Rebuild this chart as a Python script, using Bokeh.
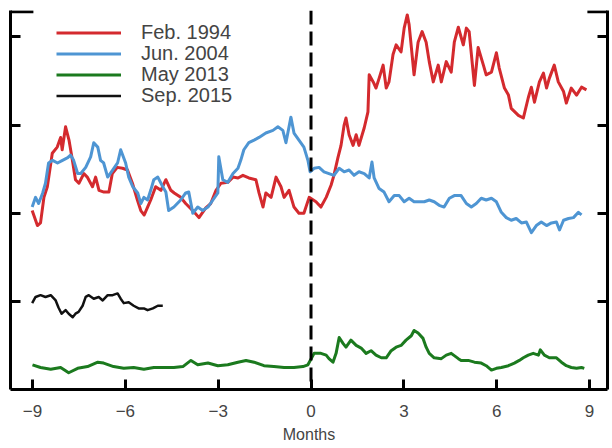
from bokeh.plotting import figure
from bokeh.models import (Range1d, LinearAxis, FixedTicker, Span, Legend, LegendItem,
                          CustomLabelingPolicy)
from bokeh.embed import file_html
from bokeh.resources import INLINE

# ---- data (months relative to event, level in arbitrary units) ----
feb1994_x = [-9.01,-8.84,-8.74,-8.63,-8.52,-8.36,-8.20,-8.09,-8.04,-7.93,-7.82,-7.71,-7.61,-7.50,-7.34,-7.23,-7.06,-6.96,-6.85,-6.69,-6.53,-6.42,-6.26,-6.09,-5.93,-5.77,-5.61,-5.50,-5.39,-5.28,-5.18,-5.02,-4.85,-4.69,-4.53,-4.42,
             -4.21,-4.05,-3.82,-3.62,-3.40,-3.24,-3.07,-2.91,-2.69,-2.52,-2.36,-2.20,-2.01,-1.78,-1.68,-1.55,-1.46,-1.29,-1.13,-0.97,-0.87,-0.71,-0.55,-0.39,-0.23,-0.06,
             0.16,0.32,0.49,0.65,0.74,0.87,0.97,1.07,1.13,1.23,1.36,1.46,1.55,1.72,1.84,1.88,2.01,2.10,2.20,2.33,2.43,2.52,2.65,2.75,2.91,3.01,3.11,3.17,3.33,3.46,3.59,3.72,3.82,3.95,4.11,4.21,4.37,4.53,
             4.63,4.76,4.92,5.02,5.11,5.28,5.40,5.57,5.66,5.83,5.99,6.08,6.25,6.38,6.47,6.70,6.86,7.02,7.12,7.22,7.38,7.51,7.61,7.70,7.86,7.99,8.16,8.25,8.41,8.58,8.74,8.90]
feb1994_y = [2.03,1.86,1.89,2.18,2.30,2.68,2.75,2.86,2.72,2.98,2.83,2.60,2.38,2.34,2.45,2.41,2.30,2.41,2.26,2.24,2.24,2.45,2.52,2.51,2.49,2.34,2.15,2.03,1.98,2.07,2.15,2.30,2.26,2.38,2.26,2.23,
             2.18,2.11,2.03,1.95,2.06,2.11,2.26,2.34,2.35,2.41,2.40,2.43,2.40,2.38,2.23,2.07,2.23,2.18,2.41,2.30,2.18,2.26,2.07,2.00,2.00,2.18,
             2.13,2.07,2.18,2.32,2.43,2.63,2.77,3.00,3.08,2.89,2.77,2.89,2.77,2.97,3.15,3.57,3.49,3.42,3.53,3.68,3.42,3.49,3.80,3.91,3.83,4.10,4.25,4.14,3.57,3.94,4.06,3.94,3.72,3.49,3.68,3.49,3.72,3.60,
             3.94,4.11,3.91,4.10,4.06,3.45,3.88,3.68,3.57,3.60,3.82,3.65,3.42,3.34,3.19,3.11,3.08,3.31,3.43,3.26,3.49,3.59,3.42,3.53,3.68,3.49,3.38,3.25,3.42,3.34,3.43,3.40]

jun2004_x = [-9.01,-8.90,-8.80,-8.67,-8.58,-8.48,-8.35,-8.19,-8.03,-7.86,-7.77,-7.67,-7.54,-7.44,-7.28,-7.12,-7.02,-6.89,-6.80,-6.70,-6.57,-6.41,-6.25,-6.15,-5.99,-5.89,-5.76,-5.60,-5.50,-5.40,-5.28,-5.18,-5.08,-4.95,-4.79,-4.69,-4.60,-4.43,
             -4.21,-4.05,-3.95,-3.82,-3.66,-3.50,-3.33,-3.17,-3.01,-2.98,-2.85,-2.69,-2.52,-2.36,-2.27,-2.17,-2.01,-1.84,-1.68,-1.46,-1.23,-1.07,-0.91,-0.81,-0.65,-0.55,-0.39,-0.23,-0.10,-0.03,
             0.10,0.26,0.42,0.58,0.74,0.91,1.07,1.23,1.39,1.55,1.72,1.88,1.97,2.04,2.20,2.36,2.52,2.69,2.85,3.01,3.17,3.33,3.50,3.66,3.82,3.98,4.14,4.30,4.47,4.63,
             4.85,5.02,5.18,5.34,5.50,5.66,5.83,5.99,6.15,6.31,6.47,6.63,6.80,6.96,7.12,7.28,7.44,7.61,7.77,7.93,8.03,8.16,8.32,8.48,8.64,8.74]
jun2004_y = [2.07,2.18,2.11,2.23,2.34,2.57,2.60,2.57,2.60,2.63,2.66,2.60,2.45,2.45,2.52,2.64,2.80,2.75,2.60,2.57,2.41,2.49,2.57,2.72,2.57,2.41,2.30,2.23,2.11,2.18,2.15,2.26,2.38,2.41,2.30,2.24,2.03,2.07,
             2.15,2.23,2.24,2.00,2.07,2.03,2.07,2.15,2.23,2.64,2.38,2.35,2.45,2.51,2.60,2.72,2.80,2.83,2.86,2.91,2.94,2.98,2.94,2.80,3.09,2.91,2.83,2.75,2.60,2.47,
             2.51,2.52,2.47,2.45,2.43,2.51,2.47,2.49,2.43,2.47,2.45,2.40,2.58,2.40,2.28,2.24,2.13,2.20,2.20,2.13,2.17,2.13,2.13,2.13,2.15,2.13,2.09,2.07,2.17,2.20,
             2.20,2.11,2.07,2.11,2.17,2.15,2.17,2.13,2.01,1.95,1.92,1.94,1.89,1.90,1.78,1.86,1.90,1.86,1.89,1.90,1.81,1.92,1.94,1.95,2.01,1.98]

may2013_x = [-9.00,-8.74,-8.41,-8.09,-7.83,-7.54,-7.22,-6.89,-6.70,-6.38,-6.05,-5.73,-5.40,-5.08,-4.76,-4.43,-4.14,-3.88,-3.66,-3.33,-3.01,-2.69,-2.36,-2.10,-1.84,-1.52,-1.20,-0.87,-0.55,-0.26,-0.10,
             0.10,0.32,0.49,0.58,0.71,0.81,0.91,1.04,1.13,1.29,1.46,1.62,1.78,1.94,2.10,2.27,2.43,2.59,2.75,2.91,3.07,3.24,3.33,3.46,3.62,3.72,3.82,3.98,4.21,4.37,4.53,4.76,
             4.85,5.08,5.28,5.50,5.66,5.83,5.99,6.15,6.38,6.57,6.73,6.86,7.02,7.18,7.35,7.41,7.54,7.70,7.93,8.09,8.25,8.41,8.58,8.74,8.83]
may2013_y = [0.28,0.25,0.23,0.25,0.19,0.24,0.26,0.31,0.30,0.26,0.24,0.25,0.23,0.25,0.25,0.25,0.26,0.33,0.28,0.30,0.27,0.28,0.31,0.33,0.31,0.27,0.26,0.25,0.25,0.26,0.28,
             0.41,0.41,0.39,0.35,0.31,0.41,0.59,0.52,0.48,0.56,0.50,0.47,0.41,0.44,0.39,0.36,0.36,0.44,0.48,0.50,0.56,0.61,0.67,0.64,0.58,0.48,0.41,0.36,0.35,0.39,0.41,0.35,
             0.33,0.33,0.31,0.30,0.27,0.22,0.24,0.25,0.27,0.30,0.33,0.36,0.39,0.41,0.39,0.45,0.39,0.36,0.36,0.31,0.27,0.25,0.24,0.25,0.24]

sep2015_x = [-9.01,-8.90,-8.74,-8.58,-8.41,-8.25,-8.16,-8.06,-7.93,-7.83,-7.70,-7.61,-7.51,-7.38,-7.28,-7.18,-7.02,-6.86,-6.73,-6.57,-6.41,-6.25,-6.15,-6.05,-5.89,-5.73,-5.57,-5.40,-5.28,-5.11,-4.95,-4.79]
sep2015_y = [0.98,1.05,1.07,1.05,1.07,1.01,0.93,0.86,0.90,0.86,0.82,0.86,0.88,0.95,1.05,1.07,1.03,1.05,1.01,1.07,1.07,1.09,1.03,0.98,0.99,0.95,0.92,0.92,0.90,0.92,0.95,0.95]

series_names = ["Feb. 1994", "Jun. 2004", "May 2013", "Sep. 2015"]
series_colors = ["#d42a2e", "#4e95d3", "#1b7a1e", "#111111"]
x_ticks = [-9, -6, -3, 0, 3, 6, 9]
y_ticks = [1, 2, 3, 4]

FONT = "Liberation Sans"

p = figure(frame_width=597, frame_height=379, output_backend="svg", toolbar_location=None,
           x_range=Range1d(-9.71, 9.58), y_range=Range1d(0, 4.3),
           min_border_left=10, min_border_right=5, min_border_top=10, min_border_bottom=0)
p.outline_line_color = None
p.grid.visible = False
p.background_fill_color = "white"

renderers = []
for xs, ys, name, col, w in [(feb1994_x, feb1994_y, series_names[0], series_colors[0], 3),
                              (jun2004_x, jun2004_y, series_names[1], series_colors[1], 3),
                              (may2013_x, may2013_y, series_names[2], series_colors[2], 3),
                              (sep2015_x, sep2015_y, series_names[3], series_colors[3], 2.5)]:
    r = p.line(xs, ys, line_color=col, line_width=w, line_join="round")
    renderers.append((name, r))

# event line
p.add_layout(Span(location=0, dimension="height", line_color="black", line_width=3, line_dash="14 7"))

# top corner stubs of the frame
xr, yr = p.x_range, p.y_range
p.segment(x0=[xr.start, 8.93], y0=[4.285, 4.285], x1=[-8.97, xr.end], y1=[4.285, 4.285],
          line_color="black", line_width=3)

no_labels = CustomLabelingPolicy(code="return new Set()")

# axes
xa = p.xaxis[0]
xa.ticker = FixedTicker(ticks=x_ticks)
xa.axis_label = "Months"
xa.axis_label_text_font = FONT
xa.axis_label_text_font_size = "16px"
xa.axis_label_text_font_style = "normal"
xa.axis_label_standoff = 6
xa.major_label_text_font = FONT
xa.major_label_text_font_size = "17px"
xa.major_label_standoff = 15
xa.major_tick_in = 10
xa.major_tick_out = 0
xa.minor_tick_line_color = None
xa.axis_line_width = 3
xa.major_tick_line_width = 3

ya = p.yaxis[0]
ya.ticker = FixedTicker(ticks=y_ticks)
ya.major_label_policy = no_labels
ya.major_label_text_font_size = "1px"
ya.major_label_standoff = 0
ya.major_tick_in = 10
ya.major_tick_out = 0
ya.minor_tick_line_color = None
ya.axis_line_width = 3
ya.major_tick_line_width = 3

ra = LinearAxis(ticker=FixedTicker(ticks=y_ticks), major_label_policy=no_labels,
                major_label_text_font_size="1px",
                major_label_standoff=0, major_tick_in=10, major_tick_out=0,
                minor_tick_line_color=None, axis_line_width=3, major_tick_line_width=3)
p.add_layout(ra, "right")

# legend: one entry per row, stacked tightly as in the original
row_bottoms = [345, 324, 303, 282]
for (n, r), yb in zip(renderers, row_bottoms):
    lg = Legend(items=[LegendItem(label=n, renderers=[r])],
                location=(46, yb), orientation="vertical",
                label_text_font=FONT, label_text_font_size="20px",
                label_height=21, glyph_height=21, glyph_width=65, spacing=0,
                label_standoff=20, padding=2, margin=0,
                border_line_color=None, background_fill_alpha=0.0)
    p.add_layout(lg, "center")

open("out.html", "w").write(file_html(p, INLINE))
